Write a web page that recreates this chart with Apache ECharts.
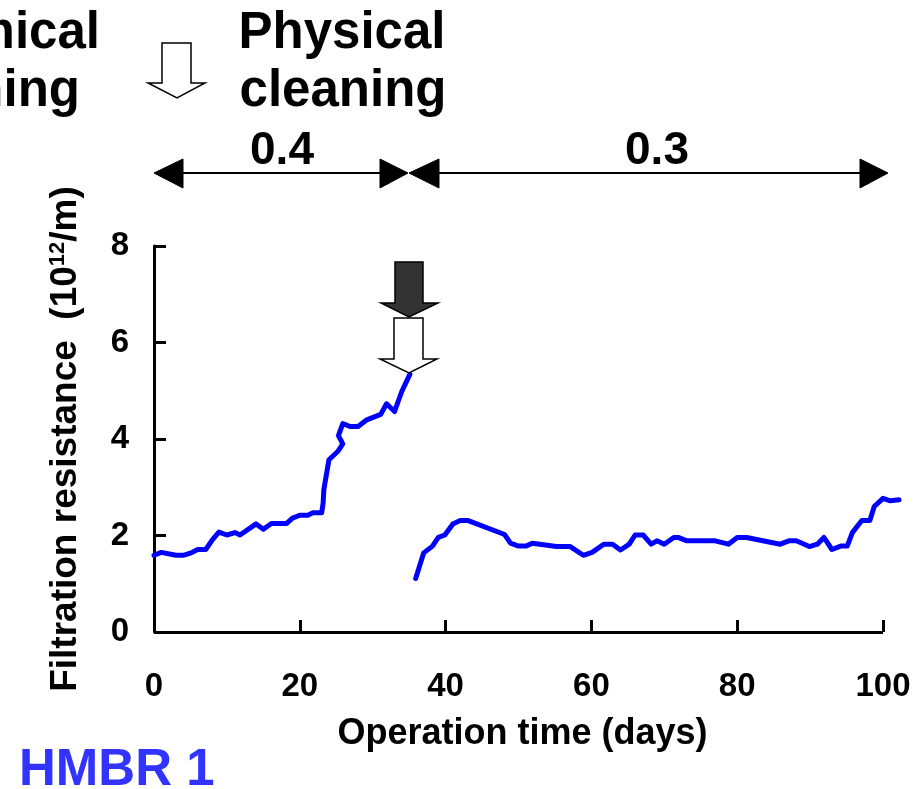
<!DOCTYPE html>
<html>
<head>
<meta charset="utf-8">
<script src="https://cdn.jsdelivr.net/npm/echarts@6/dist/echarts.min.js"></script>
<style>
html,body{margin:0;padding:0;background:#fff;}
#chart{width:920px;height:789px;}
</style>
</head>
<body>
<div id="chart"></div>
<script>
// Segment 1: before physical cleaning (flux 0.4)
const seg1Days = [0,1,3,4,5.1,6,7.1,8,8.9,10,11.1,11.8,14,15,16.1,18.2,19,20,21.1,21.8,23,23.2,23.3,24,25.2,25.9,25.3,25.9,26.9,28,29.1,31.1,31.9,33,34,35.1];
const seg1Res  = [1.59,1.65,1.59,1.59,1.64,1.71,1.71,1.91,2.07,2.01,2.06,2.01,2.24,2.13,2.25,2.25,2.36,2.42,2.42,2.47,2.47,2.67,2.95,3.57,3.74,3.90,4.07,4.32,4.26,4.26,4.39,4.51,4.73,4.57,4.99,5.34];
// Segment 2: after physical cleaning (flux 0.3)
const seg2Days = [35.9,37,38.2,39,39.9,41,42,43.1,48.1,48.9,50,51,51.9,55.2,57.1,58.9,60.1,61.7,62.9,64,65.2,66,67.1,68.2,69,70,71.3,71.9,73.1,77,78.8,80,81.3,85.9,87.1,88.1,88.9,89.9,91,91.9,93,94.2,95.1,95.8,97.1,98.2,98.8,100,101,102.2];
const seg2Res  = [1.11,1.64,1.78,1.96,2.01,2.24,2.31,2.31,2.02,1.84,1.78,1.78,1.84,1.77,1.77,1.59,1.65,1.82,1.82,1.70,1.82,2.01,2.01,1.82,1.89,1.82,1.96,1.96,1.89,1.89,1.82,1.96,1.96,1.82,1.89,1.89,1.84,1.77,1.82,1.96,1.71,1.78,1.78,2.06,2.31,2.31,2.60,2.77,2.72,2.74];
const xTicks = [0,20,40,60,80,100];
const yTicks = [0,2,4,6,8];
const fluxLabels = ['0.4','0.3'];

const FONT = '"Liberation Sans", Arial, sans-serif';
const chart = echarts.init(document.getElementById('chart'), null, {renderer:'canvas'});

function pairs(xs, ys){ return xs.map((x,i)=>[x, ys[i]]); }
const xMax = seg2Days[seg2Days.length-1];
const xAxisEnd = xTicks[xTicks.length-1];

const lineStyle = {color:'#0000FF', width:5, cap:'round', join:'round'};

function arrowDown(pts, fill){
  return {type:'polygon', shape:{points:pts}, style:{fill:fill, stroke:'#000', lineWidth:1.5}, z:10};
}
function tri(pts){
  return {type:'polygon', shape:{points:pts}, style:{fill:'#000', stroke:'#000', lineWidth:1}, z:10};
}
// text placed by alphabetic baseline (top-aligned offset ~0.81em)
function txt(s, x, baseline, fs, align, color){
  return {type:'text', x:x, y:baseline - 0.81*fs, z:10,
    style:{text:s, font:'bold '+fs+'px '+FONT, fill:color||'#000', align:align, verticalAlign:'top'}};
}

chart.setOption({
  animation:false,
  backgroundColor:'#fff',
  grid:{left:154, right:21, top:246, bottom:157, outerBoundsMode:'none', containLabel:false},
  xAxis:{
    type:'value', min:xTicks[0], max:xMax, interval:20,
    name:'Operation time (days)', nameLocation:'middle', nameGap:84,
    nameTextStyle:{fontFamily:FONT, fontWeight:'bold', fontSize:36, color:'#000', padding:[0,8,0,0]},
    axisLine:{show:false},
    axisTick:{show:true, inside:true, length:12, customValues:xTicks, lineStyle:{color:'#000', width:3}},
    axisLabel:{show:true, margin:38, customValues:xTicks, fontFamily:FONT, fontWeight:'bold', fontSize:33, color:'#000'},
    splitLine:{show:false}
  },
  yAxis:{
    type:'value', min:yTicks[0], max:yTicks[yTicks.length-1], interval:2,
    name:'{a|Filtration resistance  (10}{s|12}{a|/m)}', nameLocation:'middle', nameGap:70, nameRotate:90,
    nameTextStyle:{
      fontFamily:FONT, fontWeight:'bold', fontSize:37, color:'#000',
      rich:{
        a:{fontFamily:FONT, fontWeight:'bold', fontSize:37, color:'#000'},
        s:{fontFamily:FONT, fontWeight:'bold', fontSize:22, color:'#000', verticalAlign:'top', padding:[0,0,14,0]}
      }
    },
    axisLine:{show:true, onZero:false, lineStyle:{color:'#000', width:3}},
    axisTick:{show:true, inside:true, length:12, lineStyle:{color:'#000', width:3}},
    axisLabel:{show:true, margin:25, fontFamily:FONT, fontWeight:'bold', fontSize:33, color:'#000'},
    splitLine:{show:false}
  },
  series:[
    {type:'line', data:pairs(seg1Days, seg1Res), showSymbol:false, symbol:'none', clip:false, lineStyle:lineStyle, z:5,
     markLine:{silent:true, symbol:['none','none'], label:{show:false}, animation:false,
       lineStyle:{color:'#000', width:3, type:'solid'},
       data:[[{coord:[xTicks[0], yTicks[0]]},{coord:[xAxisEnd, yTicks[0]]}]]}},
    {type:'line', data:pairs(seg2Days, seg2Res), showSymbol:false, symbol:'none', clip:false, lineStyle:lineStyle, z:5}
  ],
  graphic:[
    // Chemical cleaning (cut off at left)
    txt('Chemical', 100, 50, 51, 'right'),
    txt('cleaning', 80, 108, 51, 'right'),
    // Physical cleaning
    txt('Physical', 342, 50, 51, 'center'),
    txt('cleaning', 343, 108, 51, 'center'),
    // hollow arrow top
    arrowDown([[162,43],[191,43],[191,83],[205,83],[177,98],[148,83],[162,83]], '#fff'),
    // flux range arrows
    {type:'line', shape:{x1:170, y1:173, x2:395, y2:173}, style:{stroke:'#000', lineWidth:2}},
    tri([[154,173],[183,159],[183,188]]),
    tri([[408,173],[380,159],[380,188]]),
    {type:'line', shape:{x1:425, y1:173, x2:875, y2:173}, style:{stroke:'#000', lineWidth:2}},
    tri([[409,173],[439,159],[439,188]]),
    tri([[888,173],[860,159],[860,188]]),
    txt(fluxLabels[0], 282, 166, 46, 'center'),
    txt(fluxLabels[1], 657, 166, 46, 'center'),
    // cleaning arrows in plot
    arrowDown([[395,262],[423,262],[423,303],[438,303],[409,317],[381,303],[395,303]], '#333'),
    arrowDown([[394,318],[423,318],[423,359],[437,359],[409,373],[380,359],[394,359]], '#fff'),
    // HMBR 1 label
    txt('HMBR 1', 19, 787, 51, 'left', '#3333FF')
  ]
});
</script>
</body>
</html>
